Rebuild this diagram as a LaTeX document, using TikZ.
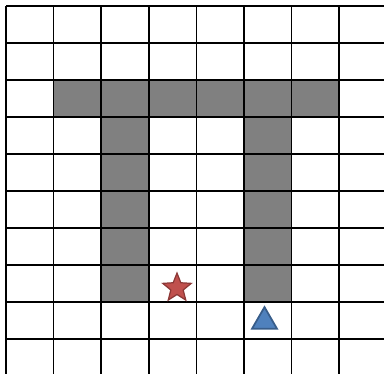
\documentclass[tikz,border=0pt]{standalone}
\usepackage{tikz}
\usetikzlibrary{shapes.geometric}
\definecolor{wallgray}{RGB}{128,128,128}
\definecolor{goalred}{RGB}{192,80,77}
\definecolor{goaledge}{RGB}{140,56,54}
\definecolor{agentblue}{RGB}{79,129,189}
\definecolor{agentedge}{RGB}{56,93,138}

\begin{document}
\begin{tikzpicture}[x=0.02cm, y=-0.02cm,
  wall/.style={fill=wallgray, draw=black, line width=0.9pt},
  gridline/.style={draw=black, line width=0.9pt}]

  \useasboundingbox (0,0) rectangle (384,374);

  % Walls
  \foreach \c in {1,...,6}
    \path[wall] (6+47.6*\c, 80) rectangle ++(47.6,37);
  \foreach \r in {3,...,7} {
    \path[wall] (101.2, 6+37*\r) rectangle ++(47.6,37);
    \path[wall] (244, 6+37*\r) rectangle ++(47.6,37);
  }

  % Grid
  \foreach \c in {0,...,7}
    \draw[gridline] (6+47.6*\c, 6) -- (6+47.6*\c, 374);
  \foreach \r in {0,...,9}
    \draw[gridline] (6, 6+37*\r) -- (384, 6+37*\r);

  % Define nodes
  \node (goal) at (177, 288) [star, star points=5, star point ratio=2.3,
    minimum size=17pt, inner sep=0pt, fill=goalred, draw=goaledge, line width=0.7pt] {};
  \node (agent) at (264.5, 321.5) [regular polygon, regular polygon sides=3,
    minimum size=16.4pt, inner sep=0pt, fill=agentblue, draw=agentedge, line width=1pt] {};
\end{tikzpicture}
\end{document}
